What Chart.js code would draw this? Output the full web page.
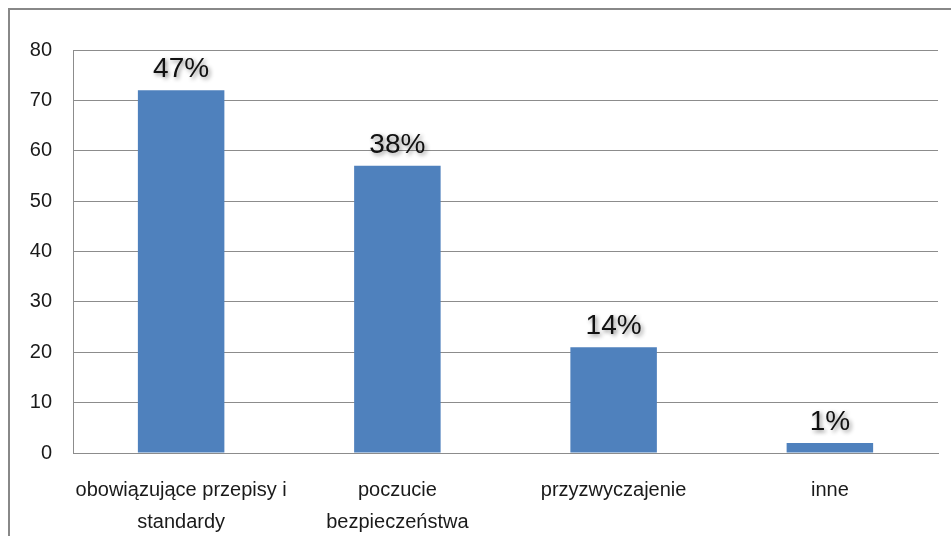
<!DOCTYPE html>
<html><head><meta charset="utf-8">
<script src="https://cdn.jsdelivr.net/npm/chart.js@4/dist/chart.umd.min.js"></script>
<style>html,body{margin:0;padding:0;background:#fff;}#wrap{width:951px;height:536px;position:relative;}</style>
</head><body><div id="wrap"><canvas id="c" width="951" height="536"></canvas></div>
<script>
const categories = [["obowiązujące przepisy i","standardy"],["poczucie","bezpieczeństwa"],"przyzwyczajenie","inne"];
const counts = [72, 57, 21, 2];
const percentLabels = ["47%","38%","14%","1%"];
const yTicks = [0,10,20,30,40,50,60,70,80];

const FONT = "'Liberation Sans Narrow', 'Liberation Sans', sans-serif";

const framePlugin = {
  id:'frame',
  beforeDraw(chart){
    const ctx = chart.ctx;
    ctx.save();
    ctx.fillStyle='#fff';ctx.fillRect(0,0,chart.width,chart.height);
    ctx.strokeStyle='#888';ctx.lineWidth=2;
    ctx.beginPath();
    ctx.moveTo(9,536);ctx.lineTo(9,9);ctx.lineTo(951,9);
    ctx.stroke();
    ctx.restore();
  }
};
const labelPlugin = {
  id:'vals',
  afterDatasetsDraw(chart){
    const ctx = chart.ctx;
    const meta = chart.getDatasetMeta(0);
    ctx.save();
    ctx.font = "28px " + FONT;
    ctx.textAlign='center';ctx.textBaseline='alphabetic';
    ctx.fillStyle='#111';
    ctx.shadowColor='rgba(0,0,0,0.45)';ctx.shadowBlur=4;ctx.shadowOffsetX=2;ctx.shadowOffsetY=2;
    meta.data.forEach((bar,i)=>{
      ctx.fillText(percentLabels[i], bar.x, bar.y - 13);
    });
    ctx.restore();
  }
};

new Chart(document.getElementById('c'),{
  type:'bar',
  data:{labels:categories,datasets:[{data:counts,backgroundColor:'#4F81BD',categoryPercentage:1.0,barPercentage:0.4}]},
  options:{
    responsive:false,animation:false,
    layout:{padding:{top:50,right:13,left:0,bottom:0}},
    plugins:{legend:{display:false},tooltip:{enabled:false}},
    scales:{
      x:{
        grid:{display:false,drawTicks:false},
        border:{display:true,color:'#8c8c8c',width:1},
        ticks:{color:'#1a1a1a',font:{family:FONT,size:20,lineHeight:1.6},padding:21,maxRotation:0,autoSkip:false},
        afterFit(s){s.height=83;}
      },
      y:{
        min:0,max:80,
        afterBuildTicks(s){s.ticks=yTicks.map(v=>({value:v}));},
        grid:{color:'#8c8c8c',lineWidth:1,drawTicks:false},
        border:{display:true,color:'#8c8c8c',width:1},
        ticks:{color:'#1a1a1a',font:{family:FONT,size:20},padding:21},
        afterFit(s){s.width=73;}
      }
    }
  },
  plugins:[framePlugin,labelPlugin]
});
</script></body></html>
